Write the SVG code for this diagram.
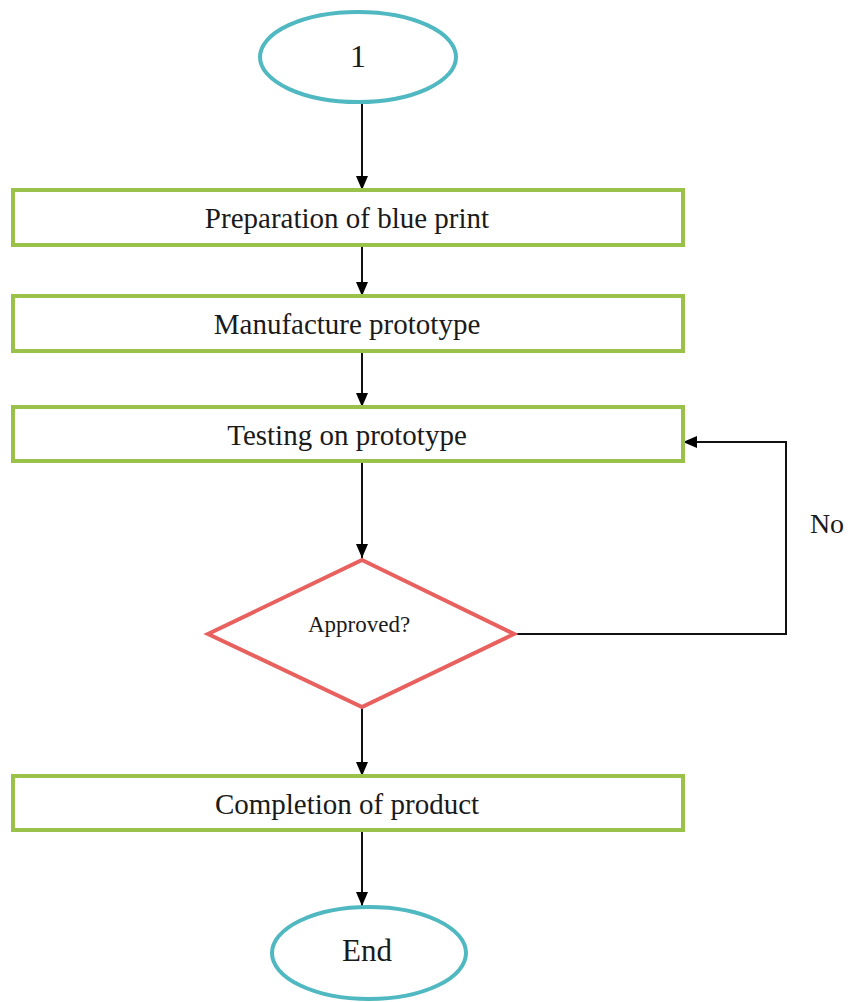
<svg xmlns="http://www.w3.org/2000/svg" width="852" height="1002" viewBox="0 0 852 1002">
<defs>
<marker id="arrL" viewBox="0 0 14 12" refX="14" refY="6" markerWidth="14" markerHeight="12" markerUnits="userSpaceOnUse" orient="auto">
<path d="M0,0 L14,6 L0,12 z" fill="#000"/>
</marker>
</defs>
<style>
.term{fill:#fff;stroke:#4fb8c0;stroke-width:4}
.box{fill:#fff;stroke:#9ac24a;stroke-width:4}
.dec{fill:#fff;stroke:#e8615f;stroke-width:4}
.t{font-family:"Liberation Serif","Times New Roman",serif;fill:#1a1a1a;text-anchor:middle}
.bt{font-size:29px}
.c{fill:none;stroke:#111;stroke-width:2}
</style>
<rect width="852" height="1002" fill="#fff"/>
<g id="connectors">
<line class="c" x1="362" y1="102" x2="362" y2="190" marker-end="url(#arrL)"/>
<line class="c" x1="362" y1="246" x2="362" y2="296" marker-end="url(#arrL)"/>
<line class="c" x1="362" y1="351" x2="362" y2="407" marker-end="url(#arrL)"/>
<line class="c" x1="362" y1="461" x2="362" y2="558" marker-end="url(#arrL)"/>
<polyline class="c" points="514,634 786,634 786,442 683,442" marker-end="url(#arrL)"/>
<line class="c" x1="362" y1="707" x2="362" y2="776" marker-end="url(#arrL)"/>
<line class="c" x1="362" y1="830" x2="362" y2="906" marker-end="url(#arrL)"/>
<text class="t" x="827" y="533" font-size="28">No</text>
</g>
<g id="start">
<ellipse class="term" cx="358" cy="57" rx="98" ry="45"/>
<text class="t" x="358" y="67" font-size="32">1</text>
</g>
<g id="blueprint">
<rect class="box" x="13" y="190" width="670" height="55"/>
<text class="t bt" x="347" y="228">Preparation of blue print</text>
</g>
<g id="manufacture">
<rect class="box" x="13" y="296" width="670" height="55"/>
<text class="t bt" x="347" y="334">Manufacture prototype</text>
</g>
<g id="testing">
<rect class="box" x="13" y="407" width="670" height="54"/>
<text class="t bt" x="347" y="445">Testing on prototype</text>
</g>
<g id="approved">
<polygon class="dec" points="362,560 514,634 362,707 208,634"/>
<text class="t" x="359" y="632" font-size="23">Approved?</text>
</g>
<g id="completion">
<rect class="box" x="13" y="776" width="670" height="54"/>
<text class="t bt" x="347" y="814">Completion of product</text>
</g>
<g id="end">
<ellipse class="term" cx="369" cy="953" rx="97" ry="46"/>
<text class="t" x="367" y="961" font-size="31">End</text>
</g>
</svg>
